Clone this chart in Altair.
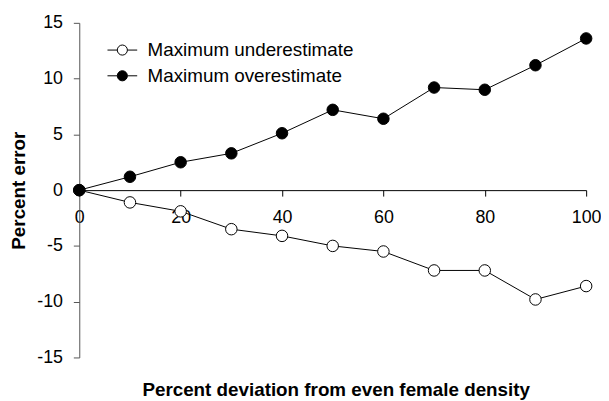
import altair as alt
import pandas as pd

# ---- data ----
deviation = [0, 10, 20, 30, 40, 50, 60, 70, 80, 90, 100]
under_err = [0, -1.1, -1.9, -3.5, -4.1, -5.0, -5.5, -7.2, -7.2, -9.8, -8.6]
over_err = [0, 1.2, 2.5, 3.3, 5.1, 7.2, 6.4, 9.2, 9.0, 11.2, 13.6]
series_names = ["Maximum underestimate", "Maximum overestimate"]
x_ticks = [0, 20, 40, 60, 80, 100]
y_ticks = [-15, -10, -5, 0, 5, 10, 15]

rows = []
for name, vals in zip(series_names, [under_err, over_err]):
    for xv, yv in zip(deviation, vals):
        rows.append({"dev": xv, "err": yv, "series": name})
df = pd.DataFrame(rows)

FONT = "Liberation Sans"
W, H = 512, 338

x_enc = alt.X(
    "dev:Q",
    scale=alt.Scale(domain=[0, 100], nice=False),
    axis=alt.Axis(
        values=x_ticks, offset=-H / 2, grid=False, domainColor="black",
        tickColor="black", tickSize=6, labelFontSize=18, labelPadding=13,
        labelFont=FONT, labelColor="black", labelFlush=False,
        title="Percent deviation from even female density",
        titleFont=FONT, titleFontSize=19, titleFontWeight="bold",
        titleColor="black", titleX=259, titleY=207,
        titleBaseline="alphabetic", titleAlign="center",
    ),
)
y_enc = alt.Y(
    "err:Q",
    scale=alt.Scale(domain=[-15, 15], nice=False, zero=False),
    axis=alt.Axis(
        values=y_ticks, grid=False, domainColor="#555555", tickColor="#555555",
        tickSize=6, labelFontSize=18, labelPadding=11, labelFont=FONT,
        labelColor="black", labelExpr="'' + datum.value", labelFlush=False,
        title="Percent error", titleFont=FONT,
        titleFontSize=19, titleFontWeight="bold", titleColor="black",
        titleAngle=270, titleX=-55, titleY=H / 2, titleBaseline="alphabetic",
        titleAlign="center",
    ),
)

lines = alt.Chart(df).mark_line(color="black", strokeWidth=1).encode(
    x=x_enc, y=y_enc, detail="series:N"
)

legend_path = ("M-1,0H-0.34M0.34,0H1M-0.34,0A0.34,0.34 0 1,0 0.34,0"
               "A0.34,0.34 0 1,0 -0.34,0Z")

points = alt.Chart(df).mark_point(
    filled=True, opacity=1, stroke="black", strokeWidth=1, size=135, shape="circle"
).encode(
    x=x_enc,
    y=y_enc,
    fill=alt.Fill(
        "series:N",
        scale=alt.Scale(domain=series_names, range=["white", "black"]),
        legend=alt.Legend(
            title=None, orient="none", legendX=28, legendY=12,
            symbolType=legend_path, symbolSize=900, symbolStrokeColor="black",
            symbolStrokeWidth=1, labelFontSize=19, labelFont=FONT,
            labelColor="black", labelOffset=10, rowPadding=-1, labelLimit=0,
        ),
    ),
    order=alt.Order("ord:Q"),
).transform_calculate(ord="datum.series == 'Maximum overestimate' ? 1 : 0")

chart = (
    alt.layer(lines, points)
    .properties(
        width=W, height=H,
        autosize=alt.AutoSizeParams(type="none"),
        padding={"left": 72, "top": 13, "right": 15, "bottom": 42},
        background="white",
    )
    .configure_view(stroke=None)
)

chart.save("out.html", embed_options={"renderer": "svg", "actions": False})
